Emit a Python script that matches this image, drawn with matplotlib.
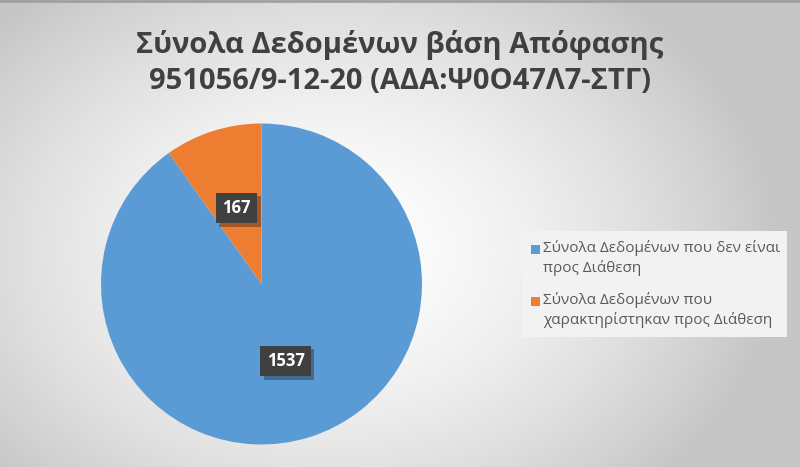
import numpy as np
import matplotlib
matplotlib.use("Agg")
import matplotlib.pyplot as plt
import matplotlib.patheffects as pe
from matplotlib.patches import Rectangle

plt.rcParams['font.family'] = ['Open Sans', 'DejaVu Sans']

title = "Σύνολα Δεδομένων βάση Απόφασης\n951056/9-12-20 (ΑΔΑ:Ψ0Ο47Λ7-ΣΤΓ)"
labels = ["Σύνολα Δεδομένων που δεν είναι\nπρος Διάθεση",
          "Σύνολα Δεδομένων που\nχαρακτηρίστηκαν προς Διάθεση"]
values = [1537, 167]
colors = ["#5B9BD5", "#ED7D31"]

W, H = 800, 467
fig = plt.figure(figsize=(W/100, H/100), dpi=100)

# radial gradient background
bg = fig.add_axes([0, 0, 1, 1])
yy, xx = np.mgrid[0:H, 0:W]
d = np.sqrt(((xx - 330) / 560.0) ** 2 + ((yy - 250) / 420.0) ** 2)
v = np.clip(1.0 - 0.32 * d ** 1.6, 0.78, 1.0)
bg.imshow(np.dstack([v, v, v]), extent=[0, W, H, 0], aspect='auto')
bg.set_xlim(0, W); bg.set_ylim(H, 0)
bg.axis('off')
bg.plot([0, W], [1, 1], color="#a0a0a0", lw=2)

fig.text(0.5, 1 - 63/H, title, ha='center', va='center', fontsize=21,
         fontweight='bold', color="#404040", linespacing=1.35)

cx, cy, r = 261.5, 284, 160.5
ax = fig.add_axes([(cx - r)/W, (H - cy - r)/H, 2*r/W, 2*r/H])
wedges, _ = ax.pie(values, colors=colors, startangle=90, counterclock=False,
                   radius=1.0, wedgeprops=dict(linewidth=0))
ax.set_xlim(-1, 1); ax.set_ylim(-1, 1)
ax.set_aspect('auto')

pos = [(285.5, 361), (236.5, 208)]
for val, (px, py) in zip(values, pos):
    t = fig.text(px/W, 1 - py/H, str(val), ha='center', va='center', fontsize=12,
                 fontweight='bold', color='white',
                 bbox=dict(boxstyle='square,pad=0.38', fc='#404040', ec='none'))
    t.get_bbox_patch().set_path_effects([pe.withSimplePatchShadow(offset=(2.5, -2.5), alpha=0.35), pe.Normal()])

# legend
fig.patches.append(Rectangle((522/W, 1 - 337/H), (787-522)/W, (337-231)/H,
                             transform=fig.transFigure, fc='#f2f2f2', ec='none', zorder=1))
leg_y = [249, 301]
for lab, c, ly in zip(labels, colors, leg_y):
    fig.patches.append(Rectangle((531/W, 1 - (ly + 4.5)/H), 9/W, 9/H,
                                 transform=fig.transFigure, fc=c, ec='none', zorder=2))
    fig.text(543/W, 1 - (ly - 9.5)/H, lab, ha='left', va='top', fontsize=11,
             color="#595959", linespacing=1.4, zorder=3)

fig.savefig("out.png", dpi=100)
